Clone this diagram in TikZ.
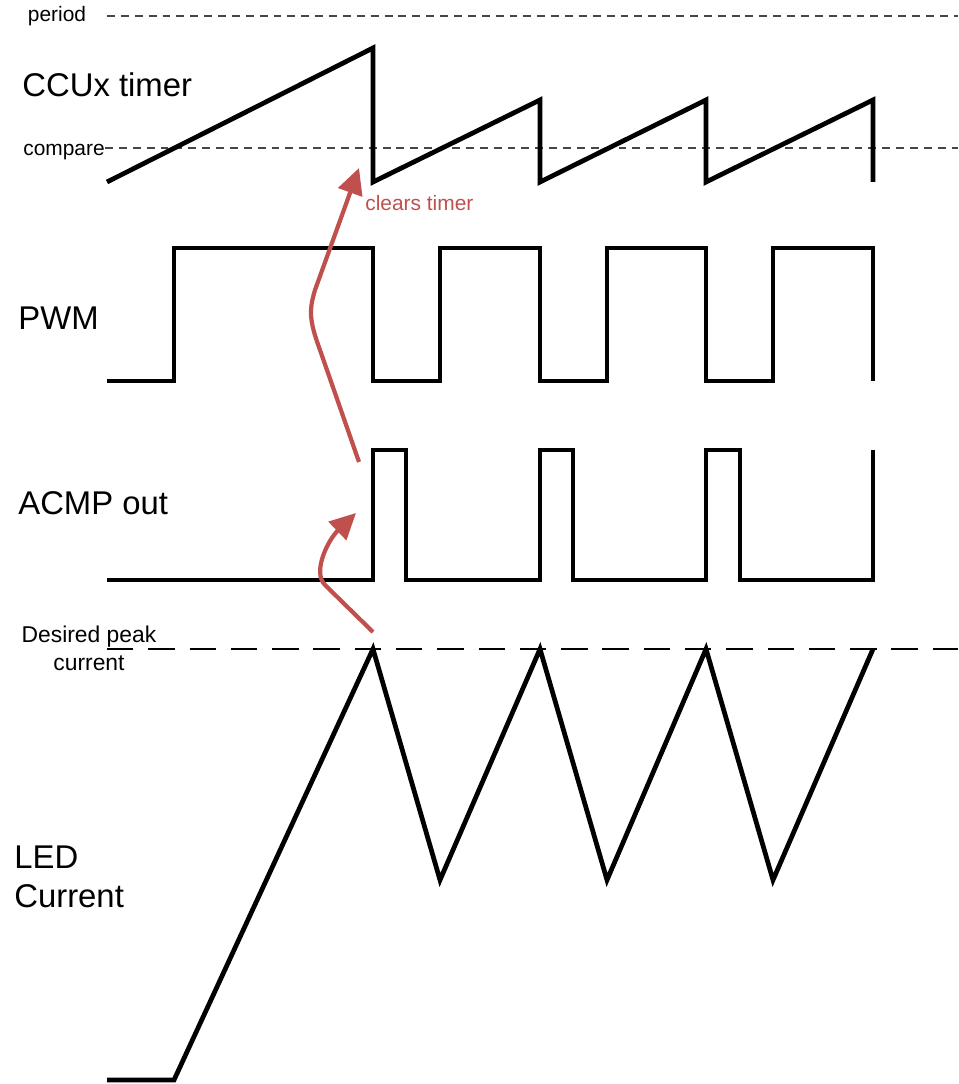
\documentclass[tikz,border=0pt]{standalone}
\usepackage{fontspec}
\setmainfont{Liberation Sans}
\definecolor{arrowred}{RGB}{192,80,77}
\definecolor{dashgray}{RGB}{70,70,70}
\usetikzlibrary{arrows.meta}

\begin{document}
\begin{tikzpicture}[
            x=0.02cm, y=-0.02cm,
            wave/.style={line width=2.7pt, line join=miter},
            refline/.style={dashgray, line width=0.6pt, dash pattern=on 4.5pt off 3.4pt},
            peakline/.style={black, line width=0.8pt, dash pattern=on 15pt off 8.5pt},
            biglabel/.style={anchor=west, inner sep=0pt, font=\fontsize{18.7}{22}\selectfont},
            smalllabel/.style={inner sep=0pt, font=\fontsize{11.9}{14}\selectfont},
            cause/.style={arrowred, line width=2.4pt, -{Triangle[length=5.2mm, width=5mm]}}
        ]
            \useasboundingbox (0,0) rectangle (958,1084);

            % Reference levels
            \node[smalllabel] (period) at (57,16) {period};
            \coordinate (periodstart) at (107,16);
            \coordinate (periodend) at (958,16);
            \draw[refline] (periodstart) -- (periodend);

            \node[smalllabel, anchor=east] (compare) at (105,152) {compare};
            \coordinate (comparestart) at (105,148);
            \coordinate (compareend) at (958,148);
            \draw[refline] (comparestart) -- (compareend);

            \node[align=center, inner sep=0pt, font=\fontsize{13}{15.9}\selectfont] (peak) at (89,648) {Desired peak\\current};
            \coordinate (peakstart) at (107,649);
            \coordinate (peakend) at (958,649);
            \draw[peakline] (peakstart) -- (peakend);

            % Signal names
            \node[biglabel] (timer) at (22,85) {CCUx timer};
            \node[biglabel] (pwm) at (18,318) {PWM};
            \node[biglabel] (acmp) at (18,503) {ACMP out};
            \node[biglabel, align=left, font=\fontsize{18.7}{22}\selectfont] (led) at (14,877) {LED\\Current};

            % Waveforms
            \draw[wave] (107,182) -- (373,48) -- (373,182) -- (540,100) -- (540,182) -- (706,100) -- (706,182) -- (873,100) -- (873,182);
            \draw[wave] (107,381) -- (174,381) -- (174,248) -- (373,248) -- (373,381) -- (440,381) -- (440,248) -- (540,248) -- (540,381)
                -- (607,381) -- (607,248) -- (706,248) -- (706,381) -- (773,381) -- (773,248) -- (873,248) -- (873,381);
            \draw[wave] (107,580) -- (373,580) -- (373,450) -- (406,450) -- (406,580) -- (540,580) -- (540,450) -- (573,450) -- (573,580)
                -- (706,580) -- (706,450) -- (740,450) -- (740,580) -- (873,580) -- (873,450);
            \draw[wave] (107,1080) -- (174,1080) -- (373,649) -- (440,880) -- (540,649) -- (607,880) -- (706,649) -- (773,880) -- (873,649);

            % Cause arrows
            \coordinate (peakhit) at (373,632);
            \coordinate (acmprise) at (356,513);
            \coordinate (acmptop) at (359,462);
            \coordinate (timerclr) at (359,168);
            \draw[cause] (peakhit) -- (325,585) .. controls (312,572) and (328,540) .. (acmprise);
            \draw[cause] (acmptop) -- (320,350) .. controls (309,320) and (309,310) .. (315,290) -- (timerclr);
            \node[smalllabel, anchor=west, text=arrowred] (clears) at (365,203) {clears timer};
        \end{tikzpicture}
\end{document}
